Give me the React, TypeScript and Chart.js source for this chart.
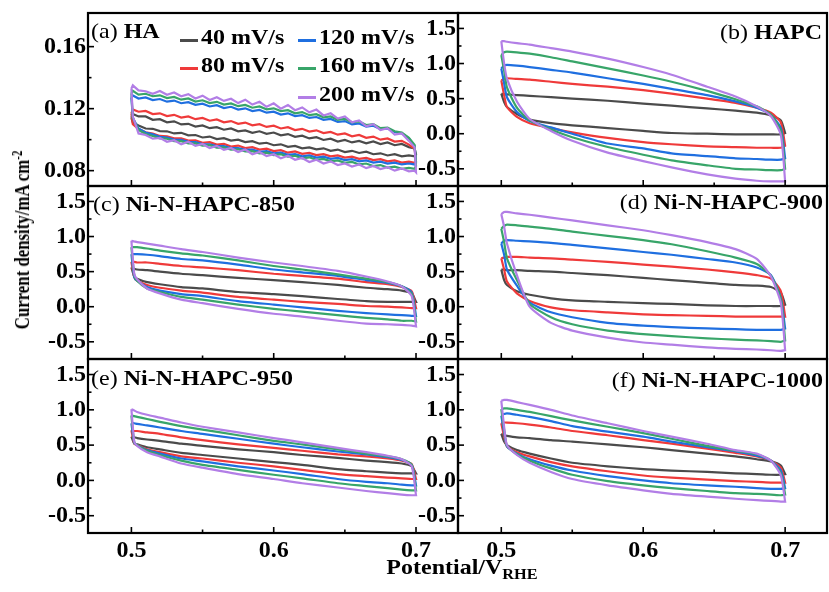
import React, { useEffect, useRef } from 'react';
import { Chart, registerables } from 'chart.js';

Chart.register(...registerables);

// ---- scan rates and their colours ----
const SCAN_RATES = ['40 mV/s', '80 mV/s', '120 mV/s', '160 mV/s', '200 mV/s'];
const RATE_COLORS = ['#4b4b4b', '#ef3a3a', '#1f6fe0', '#38a569', '#b27ee6'];

// ---- axis ticks ----
const X_TICKS = [0.5, 0.6, 0.7];
const X_MINOR = [0.55, 0.65];
const Y_TICKS_HA = [0.08, 0.12, 0.16];
const Y_MINOR_HA = [0.1, 0.14];
const Y_TICKS = [-0.5, 0, 0.5, 1.0, 1.5];
const Y_MINOR = [-0.25, 0.25, 0.75, 1.25];

// ---- (a) HA: potential grid (V vs RHE) and current density (mA cm-2) ----
const POTENTIAL_HA = [
  0.5, 0.501, 0.505, 0.51, 0.515, 0.52, 0.525, 0.53, 0.535, 0.54, 0.545, 0.55, 0.555, 0.56, 0.565,
  0.57, 0.575, 0.58, 0.585, 0.59, 0.595, 0.6, 0.605, 0.61, 0.615, 0.62, 0.625, 0.63, 0.635, 0.64,
  0.645, 0.65, 0.655, 0.66, 0.665, 0.67, 0.675, 0.68, 0.685, 0.69, 0.695, 0.699, 0.7,
];
// anodic sweep, 0.5 -> 0.7 V
const HA_FORWARD = [
  [0.114, 0.1165, 0.115, 0.115, 0.1128, 0.1132, 0.1112, 0.1118, 0.1098, 0.1102, 0.1084, 0.1092, 0.1074, 0.108, 0.1064,
   0.1072, 0.1054, 0.106, 0.1044, 0.1054, 0.1038, 0.1046, 0.1028, 0.1036, 0.1018, 0.1026, 0.1008, 0.1016, 0.0998, 0.1006,
   0.0988, 0.0998, 0.0982, 0.0992, 0.0976, 0.0988, 0.0972, 0.0982, 0.0964, 0.0972, 0.0952, 0.0944, 0.0905],
  [0.117, 0.1195, 0.118, 0.1185, 0.1165, 0.117, 0.1152, 0.116, 0.1142, 0.115, 0.1132, 0.114, 0.1122, 0.113, 0.1112,
   0.112, 0.1102, 0.111, 0.1092, 0.11, 0.1082, 0.109, 0.1072, 0.108, 0.1062, 0.107, 0.1052, 0.106, 0.1042, 0.105,
   0.1032, 0.104, 0.1022, 0.103, 0.1012, 0.102, 0.1, 0.1008, 0.0988, 0.0992, 0.0968, 0.094, 0.086],
  [0.127, 0.1285, 0.1265, 0.1272, 0.1255, 0.1262, 0.1245, 0.1252, 0.1235, 0.1242, 0.1225, 0.1232, 0.1214, 0.1222, 0.1204,
   0.1212, 0.1194, 0.1202, 0.1184, 0.1192, 0.1174, 0.118, 0.1162, 0.117, 0.1152, 0.1158, 0.114, 0.1146, 0.1128, 0.1134,
   0.1114, 0.112, 0.1098, 0.1104, 0.1084, 0.109, 0.1068, 0.1072, 0.105, 0.104, 0.1008, 0.096, 0.085],
  [0.13, 0.1315, 0.129, 0.1296, 0.128, 0.1286, 0.1268, 0.1276, 0.1258, 0.1266, 0.1246, 0.1254, 0.1236, 0.1244, 0.1226,
   0.1234, 0.1216, 0.1224, 0.1206, 0.1214, 0.1196, 0.1202, 0.1184, 0.119, 0.117, 0.1178, 0.1158, 0.1164, 0.1144, 0.115,
   0.1128, 0.1134, 0.1112, 0.1118, 0.1094, 0.11, 0.1074, 0.1078, 0.1054, 0.1046, 0.1012, 0.0966, 0.083],
  [0.133, 0.135, 0.1318, 0.1312, 0.1296, 0.1314, 0.129, 0.1304, 0.128, 0.1294, 0.1266, 0.1284, 0.1256, 0.1274, 0.125,
   0.1264, 0.1236, 0.1258, 0.1226, 0.1244, 0.1212, 0.1234, 0.12, 0.1224, 0.119, 0.1208, 0.1176, 0.1194, 0.1156, 0.117,
   0.1136, 0.115, 0.1112, 0.1124, 0.1086, 0.11, 0.1062, 0.1074, 0.1032, 0.104, 0.0992, 0.095, 0.079],
];
// cathodic sweep, listed on the same ascending potential grid
const HA_REVERSE = [
  [0.114, 0.111, 0.1092, 0.1072, 0.107, 0.1055, 0.1054, 0.104, 0.1044, 0.1028, 0.103, 0.1014, 0.102, 0.1004, 0.101,
   0.0994, 0.1, 0.0984, 0.099, 0.0974, 0.098, 0.0964, 0.097, 0.0954, 0.096, 0.0944, 0.095, 0.0938, 0.0944, 0.0928,
   0.0936, 0.092, 0.0928, 0.0914, 0.0922, 0.0906, 0.0912, 0.0898, 0.0906, 0.0892, 0.0898, 0.0892, 0.0905],
  [0.117, 0.11, 0.1068, 0.1048, 0.104, 0.1024, 0.1022, 0.1008, 0.1008, 0.0994, 0.0996, 0.098, 0.0984, 0.0968, 0.0972,
   0.0956, 0.0962, 0.0946, 0.0952, 0.0936, 0.0942, 0.0926, 0.0932, 0.0916, 0.0924, 0.0908, 0.0914, 0.09, 0.0906, 0.0892,
   0.0898, 0.0884, 0.089, 0.0876, 0.0882, 0.0868, 0.0874, 0.086, 0.0866, 0.0852, 0.0858, 0.085, 0.086],
  [0.127, 0.114, 0.1072, 0.1046, 0.1034, 0.1018, 0.1014, 0.1, 0.0998, 0.0986, 0.0984, 0.0972, 0.097, 0.0958, 0.0958,
   0.0946, 0.0946, 0.0934, 0.0936, 0.0922, 0.0926, 0.0912, 0.0916, 0.0902, 0.0906, 0.0892, 0.0898, 0.0884, 0.089, 0.0876,
   0.0882, 0.0868, 0.0874, 0.086, 0.0866, 0.0852, 0.0858, 0.0846, 0.0852, 0.084, 0.0846, 0.084, 0.085],
  [0.13, 0.114, 0.1062, 0.1036, 0.1024, 0.1008, 0.1006, 0.099, 0.099, 0.0976, 0.0976, 0.0962, 0.0964, 0.0948, 0.095,
   0.0936, 0.0938, 0.0924, 0.0926, 0.0912, 0.0916, 0.09, 0.0906, 0.089, 0.0896, 0.088, 0.0886, 0.087, 0.0876, 0.086,
   0.0866, 0.085, 0.0856, 0.084, 0.0846, 0.083, 0.0836, 0.082, 0.0826, 0.0812, 0.0818, 0.0812, 0.083],
  [0.133, 0.115, 0.104, 0.103, 0.1006, 0.1012, 0.0986, 0.0996, 0.097, 0.0986, 0.096, 0.0972, 0.0946, 0.096, 0.0934,
   0.0946, 0.092, 0.0936, 0.0906, 0.092, 0.0894, 0.0906, 0.088, 0.0896, 0.087, 0.0882, 0.0856, 0.087, 0.0846, 0.086,
   0.0836, 0.0846, 0.0826, 0.084, 0.0816, 0.083, 0.081, 0.0822, 0.08, 0.0814, 0.0796, 0.08, 0.079],
];

// ---- (b)-(f): shared potential grid ----
const POTENTIAL = [0.5, 0.502, 0.504, 0.511, 0.52, 0.535, 0.55, 0.575, 0.6, 0.62, 0.645, 0.665, 0.68, 0.69, 0.697, 0.7];

// (b) HAPC
const HAPC_FORWARD = [
  [0.57, 0.56, 0.56, 0.55, 0.54, 0.52, 0.5, 0.47, 0.43, 0.4, 0.36, 0.33, 0.3, 0.26, 0.19, 0.01],
  [0.76, 0.78, 0.79, 0.78, 0.77, 0.74, 0.71, 0.67, 0.62, 0.57, 0.5, 0.44, 0.37, 0.3, 0.16, -0.17],
  [0.93, 0.97, 0.98, 0.97, 0.95, 0.91, 0.87, 0.79, 0.71, 0.64, 0.55, 0.46, 0.37, 0.27, 0.08, -0.35],
  [1.12, 1.16, 1.17, 1.16, 1.14, 1.09, 1.03, 0.93, 0.83, 0.74, 0.61, 0.49, 0.39, 0.27, 0.04, -0.5],
  [1.32, 1.32, 1.31, 1.29, 1.27, 1.22, 1.17, 1.07, 0.95, 0.84, 0.67, 0.53, 0.39, 0.25, -0.02, -0.68],
];
const HAPC_REVERSE = [
  [0.57, 0.45, 0.38, 0.28, 0.2, 0.15, 0.12, 0.08, 0.04, 0.01, 0.0, -0.01, -0.01, -0.01, -0.01, 0.01],
  [0.76, 0.55, 0.38, 0.24, 0.15, 0.08, 0.02, -0.06, -0.12, -0.15, -0.18, -0.19, -0.2, -0.2, -0.2, -0.17],
  [0.93, 0.72, 0.52, 0.31, 0.18, 0.09, 0.0, -0.14, -0.21, -0.28, -0.32, -0.35, -0.36, -0.37, -0.37, -0.35],
  [1.12, 0.9, 0.66, 0.37, 0.19, 0.06, -0.05, -0.19, -0.3, -0.38, -0.45, -0.5, -0.51, -0.52, -0.52, -0.5],
  [1.32, 1.0, 0.78, 0.46, 0.21, 0.04, -0.1, -0.27, -0.39, -0.48, -0.58, -0.64, -0.67, -0.68, -0.68, -0.68],
];

// (c) Ni-N-HAPC-850
const NI850_FORWARD = [
  [0.56, 0.54, 0.53, 0.52, 0.5, 0.47, 0.45, 0.41, 0.38, 0.35, 0.31, 0.27, 0.25, 0.23, 0.19, 0.07],
  [0.64, 0.64, 0.63, 0.63, 0.61, 0.58, 0.56, 0.52, 0.47, 0.44, 0.4, 0.35, 0.32, 0.28, 0.22, -0.02],
  [0.75, 0.75, 0.75, 0.74, 0.72, 0.68, 0.66, 0.6, 0.53, 0.49, 0.44, 0.38, 0.34, 0.29, 0.2, -0.13],
  [0.85, 0.85, 0.85, 0.83, 0.8, 0.76, 0.73, 0.66, 0.58, 0.53, 0.46, 0.4, 0.35, 0.29, 0.18, -0.21],
  [0.94, 0.93, 0.92, 0.9, 0.87, 0.82, 0.78, 0.7, 0.63, 0.58, 0.51, 0.43, 0.36, 0.29, 0.15, -0.28],
];
const NI850_REVERSE = [
  [0.56, 0.43, 0.4, 0.35, 0.32, 0.28, 0.26, 0.21, 0.18, 0.15, 0.11, 0.08, 0.07, 0.07, 0.07, 0.07],
  [0.64, 0.42, 0.37, 0.31, 0.27, 0.23, 0.2, 0.14, 0.1, 0.07, 0.04, 0.01, 0.0, -0.01, -0.02, -0.02],
  [0.75, 0.42, 0.37, 0.28, 0.23, 0.18, 0.15, 0.08, 0.03, -0.01, -0.06, -0.09, -0.11, -0.12, -0.13, -0.13],
  [0.85, 0.45, 0.37, 0.26, 0.21, 0.14, 0.1, 0.03, -0.03, -0.07, -0.12, -0.16, -0.18, -0.2, -0.2, -0.21],
  [0.94, 0.47, 0.39, 0.26, 0.19, 0.1, 0.05, -0.03, -0.1, -0.14, -0.2, -0.24, -0.25, -0.26, -0.27, -0.28],
];

// (d) Ni-N-HAPC-900
const NI900_FORWARD = [
  [0.53, 0.53, 0.52, 0.52, 0.51, 0.5, 0.48, 0.45, 0.41, 0.38, 0.34, 0.31, 0.3, 0.28, 0.2, 0.03],
  [0.69, 0.7, 0.71, 0.71, 0.7, 0.69, 0.67, 0.64, 0.6, 0.57, 0.53, 0.49, 0.45, 0.4, 0.22, -0.14],
  [0.9, 0.94, 0.95, 0.94, 0.93, 0.91, 0.88, 0.83, 0.78, 0.74, 0.68, 0.63, 0.56, 0.45, 0.12, -0.31],
  [1.11, 1.15, 1.17, 1.16, 1.14, 1.11, 1.07, 1.01, 0.95, 0.89, 0.79, 0.7, 0.61, 0.44, 0.1, -0.48],
  [1.32, 1.35, 1.35, 1.33, 1.31, 1.27, 1.23, 1.16, 1.09, 1.02, 0.92, 0.82, 0.68, 0.43, 0.05, -0.62],
];
const NI900_REVERSE = [
  [0.53, 0.38, 0.31, 0.22, 0.17, 0.12, 0.09, 0.07, 0.05, 0.04, 0.02, 0.01, 0.01, 0.01, 0.01, 0.03],
  [0.69, 0.53, 0.36, 0.19, 0.08, -0.01, -0.05, -0.08, -0.11, -0.12, -0.13, -0.14, -0.14, -0.14, -0.14, -0.14],
  [0.9, 0.74, 0.53, 0.3, 0.06, -0.08, -0.15, -0.23, -0.27, -0.29, -0.31, -0.32, -0.33, -0.33, -0.33, -0.31],
  [1.11, 0.92, 0.69, 0.38, 0.04, -0.15, -0.25, -0.34, -0.39, -0.42, -0.45, -0.47, -0.48, -0.49, -0.5, -0.48],
  [1.32, 1.14, 0.9, 0.45, 0.0, -0.23, -0.34, -0.44, -0.51, -0.54, -0.58, -0.6, -0.61, -0.62, -0.63, -0.62],
];

// (e) Ni-N-HAPC-950
const NI950_FORWARD = [
  [0.62, 0.61, 0.6, 0.58, 0.56, 0.52, 0.49, 0.44, 0.4, 0.36, 0.32, 0.28, 0.26, 0.24, 0.2, 0.1],
  [0.71, 0.7, 0.7, 0.68, 0.66, 0.61, 0.57, 0.51, 0.46, 0.42, 0.37, 0.34, 0.31, 0.28, 0.23, 0.02],
  [0.81, 0.81, 0.8, 0.78, 0.75, 0.7, 0.66, 0.59, 0.52, 0.47, 0.41, 0.37, 0.33, 0.29, 0.22, -0.07],
  [0.92, 0.91, 0.9, 0.87, 0.83, 0.77, 0.72, 0.64, 0.56, 0.51, 0.44, 0.38, 0.34, 0.3, 0.22, -0.14],
  [1.01, 0.99, 0.97, 0.93, 0.89, 0.82, 0.76, 0.68, 0.6, 0.54, 0.46, 0.4, 0.35, 0.3, 0.2, -0.21],
];
const NI950_REVERSE = [
  [0.62, 0.52, 0.51, 0.47, 0.44, 0.39, 0.36, 0.31, 0.26, 0.22, 0.16, 0.13, 0.11, 0.1, 0.1, 0.1],
  [0.71, 0.52, 0.5, 0.44, 0.4, 0.34, 0.31, 0.25, 0.2, 0.15, 0.09, 0.06, 0.04, 0.03, 0.02, 0.02],
  [0.81, 0.53, 0.5, 0.43, 0.38, 0.31, 0.27, 0.2, 0.14, 0.09, 0.02, -0.02, -0.04, -0.06, -0.07, -0.07],
  [0.92, 0.54, 0.5, 0.42, 0.36, 0.28, 0.22, 0.15, 0.08, 0.03, -0.04, -0.08, -0.11, -0.13, -0.14, -0.14],
  [1.01, 0.55, 0.49, 0.4, 0.34, 0.24, 0.18, 0.09, 0.02, -0.04, -0.1, -0.15, -0.18, -0.2, -0.21, -0.21],
];

// (f) Ni-N-HAPC-1000
const NI1000_FORWARD = [
  [0.66, 0.64, 0.63, 0.61, 0.6, 0.57, 0.55, 0.51, 0.47, 0.43, 0.38, 0.34, 0.3, 0.27, 0.21, 0.09],
  [0.81, 0.82, 0.82, 0.81, 0.79, 0.75, 0.7, 0.64, 0.57, 0.52, 0.45, 0.39, 0.34, 0.28, 0.18, -0.03],
  [0.92, 0.94, 0.95, 0.93, 0.9, 0.84, 0.77, 0.69, 0.62, 0.55, 0.47, 0.41, 0.35, 0.28, 0.14, -0.11],
  [1.01, 1.02, 1.02, 1.0, 0.97, 0.91, 0.85, 0.76, 0.67, 0.59, 0.49, 0.42, 0.37, 0.28, 0.1, -0.2],
  [1.13, 1.14, 1.14, 1.11, 1.07, 1.0, 0.92, 0.81, 0.7, 0.62, 0.52, 0.43, 0.38, 0.28, 0.07, -0.3],
];
const NI1000_REVERSE = [
  [0.66, 0.55, 0.5, 0.43, 0.38, 0.31, 0.25, 0.2, 0.16, 0.14, 0.12, 0.1, 0.09, 0.08, 0.08, 0.09],
  [0.81, 0.62, 0.48, 0.4, 0.34, 0.26, 0.2, 0.13, 0.07, 0.04, 0.01, -0.01, -0.02, -0.03, -0.03, -0.03],
  [0.92, 0.68, 0.48, 0.38, 0.3, 0.21, 0.14, 0.06, 0.0, -0.04, -0.07, -0.09, -0.11, -0.12, -0.12, -0.11],
  [1.01, 0.72, 0.49, 0.37, 0.28, 0.17, 0.08, -0.01, -0.07, -0.11, -0.15, -0.18, -0.19, -0.2, -0.21, -0.2],
  [1.13, 0.76, 0.5, 0.36, 0.25, 0.12, 0.02, -0.07, -0.14, -0.19, -0.23, -0.26, -0.28, -0.29, -0.3, -0.3],
];

// ---- figure geometry ----
const FIG_W = 829;
const FIG_H = 592;
const FONT = "'Liberation Serif', 'Times New Roman', serif";
const TEXT_SIZE = 24;
const TEXT_SQUASH = 'scaleY(0.86)';
const COL_EDGES = [88, 458, 827];
const ROW_EDGES = [13, 186, 359, 533];
const Y_AXIS_W = 60;
const X_RANGE: [number, number] = [0.4695, 0.7295];
const Y_RANGE_HA: [number, number] = [0.0701, 0.1817];
const Y_RANGE: [number, number] = [-0.745, 1.72];

interface PanelSpec {
  tag: string;
  name: string;
  potential: number[];
  forward: number[][];
  reverse: number[][];
  yRange: [number, number];
  yTicks: number[];
  yMinor: number[];
  decimals: number;
  tension: number;
  col: number;
  row: number;
  titleAlign: 'left' | 'right';
  titleX: number;
  titleY: number;
}

const PANELS: PanelSpec[] = [
  { tag: '(a)', name: 'HA', potential: POTENTIAL_HA, forward: HA_FORWARD, reverse: HA_REVERSE, yRange: Y_RANGE_HA,
    yTicks: Y_TICKS_HA, yMinor: Y_MINOR_HA, decimals: 2, tension: 0, col: 0, row: 0, titleAlign: 'left', titleX: 91, titleY: 31 },
  { tag: '(b)', name: 'HAPC', potential: POTENTIAL, forward: HAPC_FORWARD, reverse: HAPC_REVERSE, yRange: Y_RANGE,
    yTicks: Y_TICKS, yMinor: Y_MINOR, decimals: 1, tension: 0.2, col: 1, row: 0, titleAlign: 'right', titleX: 822, titleY: 32 },
  { tag: '(c)', name: 'Ni-N-HAPC-850', potential: POTENTIAL, forward: NI850_FORWARD, reverse: NI850_REVERSE, yRange: Y_RANGE,
    yTicks: Y_TICKS, yMinor: Y_MINOR, decimals: 1, tension: 0.2, col: 0, row: 1, titleAlign: 'left', titleX: 93, titleY: 204 },
  { tag: '(d)', name: 'Ni-N-HAPC-900', potential: POTENTIAL, forward: NI900_FORWARD, reverse: NI900_REVERSE, yRange: Y_RANGE,
    yTicks: Y_TICKS, yMinor: Y_MINOR, decimals: 1, tension: 0.2, col: 1, row: 1, titleAlign: 'right', titleX: 823, titleY: 202 },
  { tag: '(e)', name: 'Ni-N-HAPC-950', potential: POTENTIAL, forward: NI950_FORWARD, reverse: NI950_REVERSE, yRange: Y_RANGE,
    yTicks: Y_TICKS, yMinor: Y_MINOR, decimals: 1, tension: 0.2, col: 0, row: 2, titleAlign: 'left', titleX: 91, titleY: 378 },
  { tag: '(f)', name: 'Ni-N-HAPC-1000', potential: POTENTIAL, forward: NI1000_FORWARD, reverse: NI1000_REVERSE, yRange: Y_RANGE,
    yTicks: Y_TICKS, yMinor: Y_MINOR, decimals: 1, tension: 0.2, col: 1, row: 2, titleAlign: 'right', titleX: 823, titleY: 380 },
];

// inward major/minor ticks on the left and bottom edges, then the closed frame
function makeFramePlugin(spec: PanelSpec) {
  return {
    id: 'panelFrame',
    afterDatasetsDraw(chart: any) {
      const { ctx, chartArea: a, scales } = chart;
      const xs = scales.x;
      const ys = scales.y;
      ctx.save();
      ctx.strokeStyle = '#000';
      ctx.lineWidth = 1.6;
      const xTick = (v: number, len: number) => {
        const px = xs.getPixelForValue(v);
        ctx.beginPath();
        ctx.moveTo(px, a.bottom);
        ctx.lineTo(px, a.bottom - len);
        ctx.stroke();
      };
      const yTick = (v: number, len: number) => {
        const py = ys.getPixelForValue(v);
        ctx.beginPath();
        ctx.moveTo(a.left, py);
        ctx.lineTo(a.left + len, py);
        ctx.stroke();
      };
      X_TICKS.forEach((v) => xTick(v, 6));
      X_MINOR.forEach((v) => xTick(v, 3.5));
      spec.yTicks.forEach((v) => yTick(v, 6));
      spec.yMinor.forEach((v) => yTick(v, 3.5));
      ctx.lineWidth = 2.2;
      ctx.strokeRect(a.left, a.top, a.right - a.left, a.bottom - a.top);
      ctx.restore();
    },
  };
}

function PanelChart({ spec }: { spec: PanelSpec }) {
  const ref = useRef<HTMLCanvasElement>(null);

  useEffect(() => {
    const canvas = ref.current;
    if (!canvas) return;
    const left = COL_EDGES[spec.col];
    const right = COL_EDGES[spec.col + 1];
    const top = ROW_EDGES[spec.row];
    const bottom = ROW_EDGES[spec.row + 1];
    const isBottom = spec.row === 2;
    const tickFont = { family: FONT, size: TEXT_SIZE, weight: 'bold' as const };

    // each CV loop: anodic branch up the grid, cathodic branch back down
    const datasets = SCAN_RATES.map((rate, i) => {
      const fwd = spec.forward[i];
      const rev = spec.reverse[i];
      const pts = spec.potential.map((x, k) => ({ x, y: fwd[k] }));
      for (let k = spec.potential.length - 1; k >= 0; k--) {
        pts.push({ x: spec.potential[k], y: rev[k] });
      }
      return {
        label: rate,
        data: pts,
        borderColor: RATE_COLORS[i],
        backgroundColor: RATE_COLORS[i],
        borderWidth: 2.2,
        pointRadius: 0,
        tension: spec.tension,
        fill: false,
        order: SCAN_RATES.length - i,
      };
    });

    const chart = new Chart(canvas, {
      type: 'line',
      data: { datasets },
      options: {
        responsive: false,
        animation: false,
        events: [],
        layout: {
          autoPadding: false,
          padding: {
            left: left - Y_AXIS_W,
            right: FIG_W - right,
            top,
            bottom: isBottom ? 0 : FIG_H - bottom,
          },
        },
        plugins: { legend: { display: false }, tooltip: { enabled: false }, title: { display: false } },
        scales: {
          x: {
            type: 'linear',
            min: X_RANGE[0],
            max: X_RANGE[1],
            grid: { display: false, drawTicks: false },
            border: { display: false },
            ticks: {
              display: isBottom,
              font: tickFont,
              color: '#000',
              padding: 3,
              maxRotation: 0,
              autoSkip: false,
              callback: (v: any) => Number(v).toFixed(1),
            },
            afterBuildTicks: (s: any) => {
              s.ticks = X_TICKS.map((value) => ({ value }));
            },
            afterFit: (s: any) => {
              s.height = isBottom ? FIG_H - bottom : 0;
              s.paddingLeft = 0;
              s.paddingRight = 0;
            },
          },
          y: {
            type: 'linear',
            min: spec.yRange[0],
            max: spec.yRange[1],
            grid: { display: false, drawTicks: false },
            border: { display: false },
            ticks: {
              font: tickFont,
              color: '#000',
              padding: 2,
              autoSkip: false,
              callback: (v: any) => Number(v).toFixed(spec.decimals),
            },
            afterBuildTicks: (s: any) => {
              s.ticks = spec.yTicks.map((value) => ({ value }));
            },
            afterFit: (s: any) => {
              s.width = Y_AXIS_W;
              s.paddingTop = 0;
              s.paddingBottom = 0;
            },
          },
        },
      } as any,
      plugins: [makeFramePlugin(spec)],
    });
    return () => chart.destroy();
  }, [spec]);

  return (
    <canvas
      ref={ref}
      width={FIG_W}
      height={FIG_H}
      style={{ position: 'absolute', left: 0, top: 0, width: FIG_W, height: FIG_H }}
    />
  );
}

const textBase: React.CSSProperties = {
  position: 'absolute',
  fontFamily: FONT,
  fontSize: TEXT_SIZE,
  lineHeight: `${TEXT_SIZE}px`,
  whiteSpace: 'nowrap',
  color: '#000',
  transform: TEXT_SQUASH,
  transformOrigin: '50% 50%',
};

function PanelTitle({ spec }: { spec: PanelSpec }) {
  const pos: React.CSSProperties =
    spec.titleAlign === 'left' ? { left: spec.titleX } : { right: FIG_W - spec.titleX, textAlign: 'right' };
  return (
    <div style={{ ...textBase, top: spec.titleY - TEXT_SIZE / 2, ...pos }}>
      <span style={{ fontWeight: 400 }}>{spec.tag}</span>
      <span style={{ fontWeight: 700 }}> {spec.name}</span>
    </div>
  );
}

// legend slots: [column, row]
const LEGEND_COLS = [180, 298];
const LEGEND_ROWS = [37, 65, 94];
const LEGEND_SLOTS = [
  [0, 0],
  [0, 1],
  [1, 0],
  [1, 1],
  [1, 2],
];

function Legend() {
  return (
    <>
      {SCAN_RATES.map((rate, i) => {
        const [c, r] = LEGEND_SLOTS[i];
        const x = LEGEND_COLS[c];
        const y = LEGEND_ROWS[r];
        return (
          <React.Fragment key={rate}>
            <span
              style={{
                position: 'absolute',
                left: x,
                top: y + 2,
                width: 18,
                height: 2.5,
                background: RATE_COLORS[i],
              }}
            />
            <span style={{ ...textBase, left: x + 21, top: y - TEXT_SIZE / 2, fontWeight: 700 }}>{rate}</span>
          </React.Fragment>
        );
      })}
    </>
  );
}

export default function App() {
  return (
    <div
      style={{
        position: 'fixed',
        left: 0,
        top: 0,
        width: FIG_W,
        height: FIG_H,
        background: '#fff',
        overflow: 'hidden',
      }}
    >
      {PANELS.map((p) => (
        <PanelChart key={p.tag} spec={p} />
      ))}
      {PANELS.map((p) => (
        <PanelTitle key={'t' + p.tag} spec={p} />
      ))}
      <Legend />
      <div
        style={{
          position: 'absolute',
          left: 22,
          top: 240,
          transform: 'translate(-50%, -50%) rotate(-90deg) scaleX(0.8)',
          fontFamily: FONT,
          fontSize: 21,
          fontWeight: 700,
          whiteSpace: 'nowrap',
          lineHeight: '22px',
          color: '#000',
        }}
      >
        Current density/mA cm<sup style={{ fontSize: '0.65em', verticalAlign: '0.55em', lineHeight: 0 }}>-2</sup>
      </div>
      <div
        style={{
          ...textBase,
          left: 462,
          top: 567,
          transform: `translate(-50%, -50%) ${TEXT_SQUASH}`,
          fontWeight: 700,
        }}
      >
        Potential/V<sub style={{ fontSize: '0.68em', verticalAlign: '-0.35em', lineHeight: 0 }}>RHE</sub>
      </div>
    </div>
  );
}
